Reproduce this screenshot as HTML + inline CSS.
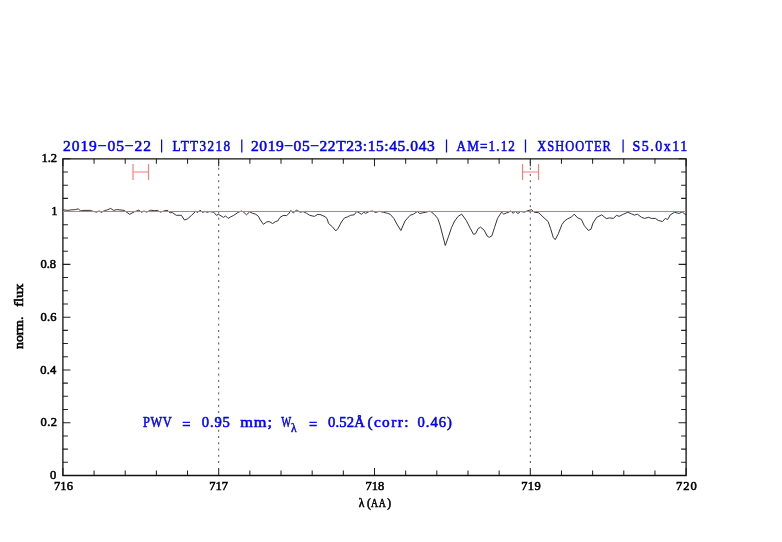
<!DOCTYPE html><html><head><meta charset="utf-8"><style>html,body{margin:0;padding:0;background:#fff;width:782px;height:542px;overflow:hidden}svg{display:block;will-change:transform}text{font-family:"Liberation Serif",serif;white-space:pre}</style></head><body>
<svg width="782" height="542" viewBox="0 0 782 542">
<rect width="782" height="542" fill="#fff"/>
<path d="M63.1 209.8 L67.7 210.4 L70 210 L75.3 209.6 L78.4 208.8 L80.7 211.1 L83 210.4 L90.7 210.4 L93 211.4 L96.8 212.1 L99.1 210.9 L101.4 212.4 L104.5 210.6 L107.6 209.8 L110.6 208.4 L113.7 210.4 L116.8 209.6 L120 209.9 L124.1 210.4 L129.7 214.3 L134.3 211.8 L138.9 210.2 L141.5 212.3 L144 211 L146.6 212.1 L150.7 210.2 L154.8 210.7 L157.3 210.4 L160.4 212.1 L163 211.3 L167.1 210.2 L170.1 212.8 L172.2 212.5 L176.3 215.3 L181.4 215.3 L184.5 220 L187.5 218.9 L191.6 215.3 L195.7 211.3 L197.7 212.5 L200 210.2 L202.6 212.3 L205.1 211.5 L207.2 212.3 L209.7 211.5 L213.8 212.3 L216.4 215.3 L218.4 214.3 L223.5 217.4 L225.6 215.9 L228.1 218.4 L230.7 216.9 L233.8 215.3 L237.9 212.5 L241.4 211 L243.5 212.1 L246.5 214.8 L249.6 211.8 L252.2 213.1 L255.8 214.3 L258.3 216.2 L260.4 220 L263.4 224.3 L266.5 222 L269.1 221.5 L272.6 223.5 L275.7 221.5 L277.7 221 L280 217.4 L283.1 215.5 L286.6 215.5 L288.7 213.8 L290.7 210.5 L293.3 212.8 L296.4 210.2 L300.5 212.3 L303 211.5 L306.6 213.3 L309.7 215.3 L314.3 216.4 L317.9 214.3 L320.9 214.8 L325.5 216.9 L327.1 218.9 L328.6 223.5 L332.2 226.6 L335.8 230.9 L338.3 228.1 L341.4 222 L344.5 217.9 L347.5 216.9 L350.6 215.3 L354.2 214.8 L356.7 211.5 L360 213.3 L361.5 214.3 L363.6 212.3 L365.6 213.3 L369.2 211.5 L372.8 211 L375.3 212.5 L379.4 211.3 L383.5 212.3 L387.6 213.3 L390.2 214.3 L393.8 218.4 L396.8 224 L400.9 230.5 L405 221 L410.1 215.3 L413.2 214.3 L417.3 211.5 L419.8 213.5 L422.9 212.8 L425.5 212.3 L429.6 211.3 L431.6 212.1 L434.7 214.8 L437.7 218.4 L440.2 225.6 L442.8 235.8 L445.3 245.5 L448.4 236.8 L451.5 227.6 L454.6 221 L458.1 216.4 L461.7 214.1 L466.3 220.5 L470.4 228.6 L473.5 234.3 L475.5 233.8 L478.1 228.6 L480.6 227.1 L484.2 230.2 L487.3 236.3 L489.3 237.3 L491.9 235.8 L494.5 227.6 L497.5 218.4 L501.6 212.1 L503.7 214.1 L506.7 212.8 L508.2 212.5 L510.7 211 L513.3 213.3 L515.3 211.3 L517.9 213.5 L520.5 211.5 L524.6 212.1 L527.6 210.7 L531.7 209.7 L533.8 212.1 L538.9 212.8 L543 216.9 L548.1 221.5 L550.6 228.6 L553.2 237.3 L555.2 239.7 L558.3 233.8 L561.9 224.6 L564.5 221 L567.5 218.9 L571.6 216.9 L574.2 214.1 L577.7 217.9 L581.3 219.4 L584.3 225.6 L588.4 230.5 L591 229.2 L593 223 L596.6 217.4 L601.7 214.8 L606.3 218.6 L609.4 217.9 L613.5 218.4 L616.5 215.3 L619.1 216.4 L623.2 214.3 L627.8 212.3 L631.4 213.8 L634.5 215.1 L637.3 214.2 L641.5 217.3 L644.6 218.4 L648.8 217.3 L651.1 218.4 L655.3 218.4 L658.4 220.5 L662.6 221.5 L665.3 218.4 L667.6 219.6 L670.3 214.8 L674.5 212.3 L679.1 213.4 L682.2 211.9 L684.5 213.8 L686 215" fill="none" stroke="#2a2a2a" stroke-width="0.95" stroke-linejoin="round"/>
<line x1="218.7" y1="463" x2="218.7" y2="158.8" stroke="#444" stroke-width="0.95" stroke-dasharray="2 4.24"/>
<line x1="530.3" y1="463" x2="530.3" y2="158.8" stroke="#444" stroke-width="0.95" stroke-dasharray="2 4.24"/>
<path d="M62.9 475.5v-7.5M62.9 158.8v7.5M94.06 475.5v-5M94.06 158.8v5M125.22 475.5v-5M125.22 158.8v5M156.38 475.5v-5M156.38 158.8v5M187.54 475.5v-5M187.54 158.8v5M218.7 475.5v-7.5M218.7 158.8v7.5M249.86 475.5v-5M249.86 158.8v5M281.02 475.5v-5M281.02 158.8v5M312.18 475.5v-5M312.18 158.8v5M343.34 475.5v-5M343.34 158.8v5M374.5 475.5v-7.5M374.5 158.8v7.5M405.66 475.5v-5M405.66 158.8v5M436.82 475.5v-5M436.82 158.8v5M467.98 475.5v-5M467.98 158.8v5M499.14 475.5v-5M499.14 158.8v5M530.3 475.5v-7.5M530.3 158.8v7.5M561.46 475.5v-5M561.46 158.8v5M592.62 475.5v-5M592.62 158.8v5M623.78 475.5v-5M623.78 158.8v5M654.94 475.5v-5M654.94 158.8v5M686.1 475.5v-7.5M686.1 158.8v7.5M62.9 475.5h7.5M686.1 475.5h-7.5M62.9 462.3h5M686.1 462.3h-5M62.9 449.11h5M686.1 449.11h-5M62.9 435.91h5M686.1 435.91h-5M62.9 422.72h7.5M686.1 422.72h-7.5M62.9 409.52h5M686.1 409.52h-5M62.9 396.32h5M686.1 396.32h-5M62.9 383.13h5M686.1 383.13h-5M62.9 369.93h7.5M686.1 369.93h-7.5M62.9 356.74h5M686.1 356.74h-5M62.9 343.54h5M686.1 343.54h-5M62.9 330.35h5M686.1 330.35h-5M62.9 317.15h7.5M686.1 317.15h-7.5M62.9 303.95h5M686.1 303.95h-5M62.9 290.76h5M686.1 290.76h-5M62.9 277.56h5M686.1 277.56h-5M62.9 264.37h7.5M686.1 264.37h-7.5M62.9 251.17h5M686.1 251.17h-5M62.9 237.98h5M686.1 237.98h-5M62.9 224.78h5M686.1 224.78h-5M62.9 211.58h7.5M686.1 211.58h-7.5M62.9 198.39h5M686.1 198.39h-5M62.9 185.19h5M686.1 185.19h-5M62.9 172h5M686.1 172h-5M62.9 158.8h7.5M686.1 158.8h-7.5" stroke="#222" stroke-width="1.05" fill="none"/>
<path d="M62.9 158.8H686.1V475.5H62.9Z" stroke="#111" stroke-width="1.3" fill="none"/>
<line x1="62.9" y1="211.5" x2="686.1" y2="211.5" stroke="#ff6464" stroke-width="1"/>
<path d="M133 164V180M148.5 164V180M133 172H148.5" stroke="#ff7a7a" stroke-width="1.15" fill="none"/>
<path d="M522.5 164V180M538.5 164V180M522.5 172H538.5" stroke="#ff7a7a" stroke-width="1.15" fill="none"/>
<line x1="161.6" y1="139.5" x2="161.6" y2="152.5" stroke="#00f" stroke-width="1.25"/>
<line x1="241.8" y1="139.5" x2="241.8" y2="152.5" stroke="#00f" stroke-width="1.25"/>
<line x1="446.5" y1="139.5" x2="446.5" y2="152.5" stroke="#00f" stroke-width="1.25"/>
<line x1="525.5" y1="139.5" x2="525.5" y2="152.5" stroke="#00f" stroke-width="1.25"/>
<line x1="623.1" y1="139.5" x2="623.1" y2="152.5" stroke="#00f" stroke-width="1.25"/>
<g transform="translate(22.7 0) rotate(-90)"><text x="-348.9" y="0" font-size="12" fill="#000" stroke="#000" stroke-width="0.55" textLength="32.3" lengthAdjust="spacingAndGlyphs">norm.</text><text x="-306.8" y="0" font-size="12" fill="#000" stroke="#000" stroke-width="0.55" textLength="23.2" lengthAdjust="spacingAndGlyphs">flux</text></g>
<text transform="translate(41.5 162.3)" font-size="12.5" fill="#000" stroke="#000" stroke-width="0.55" textLength="15.4" lengthAdjust="spacing">1.2</text>
<text transform="translate(51.2 215.2)" font-size="12.5" fill="#000" stroke="#000" stroke-width="0.55">1</text>
<text transform="translate(40.5 268)" font-size="12.5" fill="#000" stroke="#000" stroke-width="0.55" textLength="15.4" lengthAdjust="spacing">0.8</text>
<text transform="translate(40.6 320.9)" font-size="12.5" fill="#000" stroke="#000" stroke-width="0.55" textLength="16" lengthAdjust="spacing">0.6</text>
<text transform="translate(40.3 373.6)" font-size="12.5" fill="#000" stroke="#000" stroke-width="0.55" textLength="16" lengthAdjust="spacing">0.4</text>
<text transform="translate(40.5 426.3)" font-size="12.5" fill="#000" stroke="#000" stroke-width="0.55" textLength="16.5" lengthAdjust="spacing">0.2</text>
<text transform="translate(50 479.2)" font-size="12.5" fill="#000" stroke="#000" stroke-width="0.55">0</text>
<text transform="translate(54.1 490.3)" font-size="12.5" fill="#000" stroke="#000" stroke-width="0.55" textLength="18.8" lengthAdjust="spacing">716</text>
<text transform="translate(209.3 490.3)" font-size="12.5" fill="#000" stroke="#000" stroke-width="0.55" textLength="18.8" lengthAdjust="spacing">717</text>
<text transform="translate(365.5 490.3)" font-size="12.5" fill="#000" stroke="#000" stroke-width="0.55" textLength="18.8" lengthAdjust="spacing">718</text>
<text transform="translate(521.3 490.3)" font-size="12.5" fill="#000" stroke="#000" stroke-width="0.55" textLength="19.4" lengthAdjust="spacing">719</text>
<text transform="translate(676.1 490.3)" font-size="12.5" fill="#000" stroke="#000" stroke-width="0.55" textLength="20.7" lengthAdjust="spacing">720</text>
<text transform="translate(358.8 506.8)" font-size="11.5" fill="#000" stroke="#000" stroke-width="0.55">λ</text>
<text transform="translate(367 506.6)" font-size="11.5" fill="#000" stroke="#000" stroke-width="0.55">(</text>
<text transform="translate(371.1 506.5) scale(0.85 1)" font-size="11.5" fill="#000" stroke="#000" stroke-width="0.55" textLength="17.18" lengthAdjust="spacing">AA</text>
<text transform="translate(387.2 506.6)" font-size="11.5" fill="#000" stroke="#000" stroke-width="0.55">)</text>
<text transform="translate(63.1 150.6)" font-size="15.5" fill="#00f" stroke="#00f" stroke-width="0.55" textLength="87.8" lengthAdjust="spacing">2019−05−22</text>
<text transform="translate(172.4 150.6) scale(0.85 1)" font-size="15.5" fill="#00f" stroke="#00f" stroke-width="0.55" textLength="67.88" lengthAdjust="spacing">LTT3218</text>
<text transform="translate(251 150.6)" font-size="15.5" fill="#00f" stroke="#00f" stroke-width="0.55" textLength="183.7" lengthAdjust="spacing">2019−05−22T23:15:45.043</text>
<text transform="translate(456.6 150.6) scale(0.85 1)" font-size="15.5" fill="#00f" stroke="#00f" stroke-width="0.55" textLength="68.59" lengthAdjust="spacing">AM=1.12</text>
<text transform="translate(537.2 150.6) scale(0.8 1)" font-size="15.5" fill="#00f" stroke="#00f" stroke-width="0.55" textLength="92" lengthAdjust="spacing">XSHOOTER</text>
<text transform="translate(632.5 150.6) scale(0.9 1)" font-size="15.5" fill="#00f" stroke="#00f" stroke-width="0.55" textLength="60.89" lengthAdjust="spacing">S5.0x11</text>
<text transform="translate(143.1 427.3) scale(0.85 1)" font-size="14.6" fill="#00f" stroke="#00f" stroke-width="0.55" textLength="33.76" lengthAdjust="spacing">PWV</text>
<text transform="translate(182.2 428.6)" font-size="14.6" fill="#00f" stroke="#00f" stroke-width="0.55">=</text>
<text transform="translate(201.8 427.3)" font-size="14.6" fill="#00f" stroke="#00f" stroke-width="0.55" textLength="28.1" lengthAdjust="spacing">0.95</text>
<text transform="translate(240.2 427.3) scale(1.12 1)" font-size="14.6" fill="#00f" stroke="#00f" stroke-width="0.55" textLength="28.48" lengthAdjust="spacing">mm;</text>
<text transform="translate(281.3 427.3) scale(0.72 1)" font-size="14.6" fill="#00f" stroke="#00f" stroke-width="0.55">W</text>
<text transform="translate(309.1 428.6)" font-size="14.6" fill="#00f" stroke="#00f" stroke-width="0.55">=</text>
<text transform="translate(328 427.3)" font-size="14.6" fill="#00f" stroke="#00f" stroke-width="0.55" textLength="36.8" lengthAdjust="spacing">0.52Å</text>
<text transform="translate(367.4 427.3) scale(1.05 1)" font-size="14.6" fill="#00f" stroke="#00f" stroke-width="0.55" textLength="39.05" lengthAdjust="spacing">(corr:</text>
<text transform="translate(417.5 427.3)" font-size="14.6" fill="#00f" stroke="#00f" stroke-width="0.55" textLength="34.3" lengthAdjust="spacing">0.46)</text>
<text transform="translate(290.9 431.5)" font-size="11.5" fill="#00f" stroke="#00f" stroke-width="0.45">λ</text>
</svg></body></html>
